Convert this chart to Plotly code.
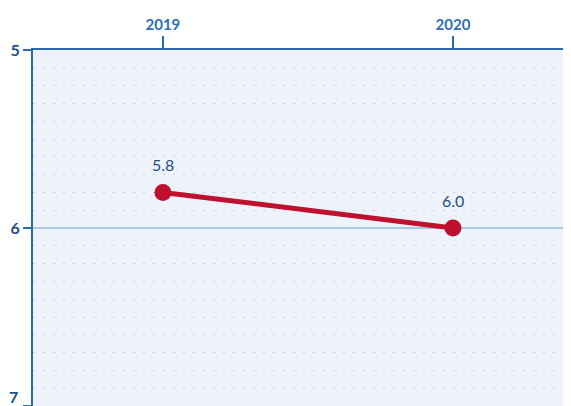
import plotly.graph_objects as go

years = [2019, 2020]
values = [5.8, 6.0]
value_labels = ["5.8", "6.0"]
y_ticks = [5, 6, 7]
y_tick_labels = ["5", "6", "7"]

axis_blue = "#2b6aa6"
label_blue = "#1d4f86"
line_red = "#c0102f"

fig = go.Figure()
fig.add_trace(go.Scatter(
    x=years,
    y=values,
    mode="lines+markers",
    line=dict(color=line_red, width=5),
    marker=dict(color=line_red, size=17),
    hoverinfo="skip",
))

# value labels above each point
for x, y, t in zip(years, values, value_labels):
    fig.add_annotation(x=x, y=y, text=t, showarrow=False, yshift=28,
                       font=dict(family="Lato", size=16, color=label_blue))

# the last tick label sits on the bottom edge, so lift it to stay visible
fig.add_annotation(x=0, xref="paper", y=y_ticks[-1], yref="y", text=y_tick_labels[-1],
                   showarrow=False, xanchor="right", yanchor="bottom", xshift=-13, yshift=-2,
                   font=dict(family="Lato", size=16, color=label_blue, weight="bold"))

# page body has an 8px margin, so the figure is shrunk by that much
fig.update_layout(
    width=563, height=398,
    margin=dict(l=25, r=0, t=42, b=0),
    paper_bgcolor="white",
    plot_bgcolor="#eef3fb",
    showlegend=False,
)
fig.update_xaxes(
    side="top",
    range=[2018.552, 2020.407],
    tickvals=years,
    ticktext=[str(y) for y in years],
    ticks="outside", ticklen=12, tickwidth=2, tickcolor=axis_blue,
    tickfont=dict(family="Lato", size=15, color="#2e6fb0", weight="bold"),
    showline=True, linecolor=axis_blue, linewidth=2,
    showgrid=False, zeroline=False,
    automargin=False,
)
fig.update_yaxes(
    range=[7, 5],
    tickvals=y_ticks,
    ticktext=y_tick_labels[:-1] + [""],
    ticks="outside", ticklen=8, tickwidth=2, tickcolor=axis_blue,
    tickfont=dict(family="Lato", size=16, color=label_blue, weight="bold"),
    showline=True, linecolor=axis_blue, linewidth=2,
    showgrid=True, gridcolor="#a9c8e6", gridwidth=2,
    zeroline=False,
    automargin=False,
    minor=dict(dtick=0.1, showgrid=True, gridcolor="#c3cfdf", gridwidth=1, griddash="2px,8px"),
)

fig.write_html("out.html")
